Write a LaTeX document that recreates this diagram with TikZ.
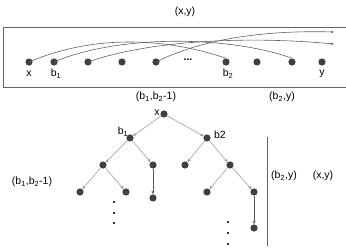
\documentclass[tikz,border=0pt]{standalone}
\usepackage{fontspec}
\setmainfont{Liberation Sans}
\usetikzlibrary{arrows.meta}
\begin{document}
\begin{tikzpicture}[x=1pt,y=-1pt,
  dot/.style={circle,fill=black!75,inner sep=0pt,minimum size=7.2pt},
  lbl/.style={font=\fontsize{10.5}{12}\selectfont,inner sep=0pt},
  edge/.style={draw=black!42,line width=0.5pt,-{Stealth[length=3.5pt,width=3pt]}},
  darkedge/.style={draw=black!65,line width=0.6pt,-{Stealth[length=3.5pt,width=3pt]}},
  arc/.style={draw=black!62,line width=0.6pt},
  arcarrow/.style={arc,-{Stealth[length=3.5pt,width=2.5pt]}},
]
\useasboundingbox (0,0) rectangle (346,252);

% ---------- top panel ----------
\node[lbl] (topxy) at (185,12) {(x,y)};
\draw[black!60,line width=0.6pt] (346,27) -- (3.5,27) -- (3.5,87) -- (346,87);

\node[dot] (ta) at (29,62) {};
\node[dot] (tb) at (54,62) {};
\node[dot] (tc) at (88,62) {};
\node[dot] (td) at (122,62) {};
\node[dot] (te) at (156,62) {};
\node[lbl,font=\bfseries\fontsize{10.5}{12}\selectfont] (tdots) at (188,60) {...};
\node[dot] (tf) at (226,62) {};
\node[dot] (tg) at (257,62) {};
\node[dot] (th) at (292,62) {};
\node[dot] (ti) at (322,62) {};

\node[lbl] (lx) at (29,74) {x};
\node[lbl] (lb1) at (56,74) {b\textsubscript{1}};
\node[lbl] (lb2) at (228,74) {b\textsubscript{2}};
\node[lbl] (ly) at (322,74) {y};

\coordinate (e1) at (334,44);
\coordinate (e2) at (334,32);

\draw[arc] (ta.center) .. controls (90,36) and (160,36) .. (tf.north);
\draw[arc] (tb.center) .. controls (120,34) and (230,36) .. (th.north);
\draw[arcarrow] (tc.center) .. controls (150,40) and (250,36) .. (e1);
\draw[arcarrow] (te.center) .. controls (200,40) and (260,30) .. (e2);

% ---------- tree ----------
\node[lbl] (t1) at (156,97) {(b\textsubscript{1},b\textsubscript{2}-1)};
\node[lbl] (t2) at (282,97) {(b\textsubscript{2},y)};

\node[dot] (r) at (164,114) {};
\node[dot] (n1) at (130,138) {};
\node[dot] (n2) at (207,138) {};
\node[dot] (n11) at (103,165) {};
\node[dot] (n12) at (153,165) {};
\node[dot] (n21) at (185,165) {};
\node[dot] (n22) at (230,165) {};
\node[dot] (n111) at (80,192) {};
\node[dot] (n112) at (126,192) {};
\node[dot] (n121) at (153,198) {};
\node[dot] (n221) at (207,192) {};
\node[dot] (n222) at (254,192) {};
\node[dot] (n2221) at (254,228) {};

\node[lbl] (rx) at (157,113) {x};
\node[lbl] (rb1) at (123,132) {b\textsubscript{1}};
\node[lbl] (rb2) at (220,135) {b2};

\draw[edge] (r) -- (n1);
\draw[edge] (r) -- (n2);
\draw[edge] (n1) -- (n11);
\draw[edge] (n1) -- (n12);
\draw[edge] (n11) -- (n111);
\draw[edge] (n11) -- (n112);
\draw[darkedge] (n12) -- (n121);
\draw[edge] (n2) -- (n21);
\draw[edge] (n2) -- (n22);
\draw[edge] (n22) -- (n221);
\draw[edge] (n22) -- (n222);
\draw[darkedge] (n222) -- (n2221);

\foreach \i/\yy in {1/202,2/213,3/223} {
  \node[fill=black!80,inner sep=0pt,minimum size=2.2pt] (va\i) at (114,\yy) {};
}
\foreach \i/\yy in {1/222,2/233,3/244} {
  \node[fill=black!80,inner sep=0pt,minimum size=2.2pt] (vb\i) at (228,\yy) {};
}

\coordinate (vtop) at (267,137);
\coordinate (vbot) at (267,246);
\draw[black!60,line width=0.6pt] (vtop) -- (vbot);

\node[lbl] (l1) at (32,182) {(b\textsubscript{1},b\textsubscript{2}-1)};
\node[lbl] (l2) at (284,176) {(b\textsubscript{2},y)};
\node[lbl] (l3) at (323,176) {(x,y)};
\end{tikzpicture}
\end{document}
